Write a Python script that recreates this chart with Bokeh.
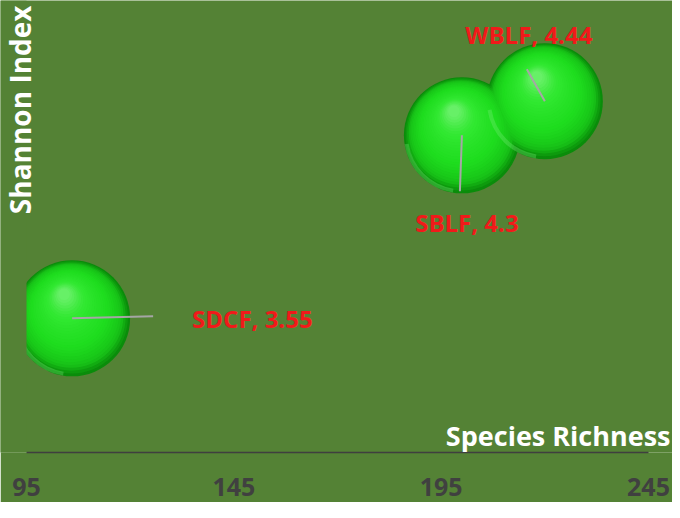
import numpy as np
from bokeh.plotting import figure
from bokeh.models import Range1d, Label, FixedTicker, ColumnDataSource, BoxAnnotation
from bokeh.core.properties import value
from bokeh.embed import file_html
from bokeh.resources import INLINE

# ---- data ----
sites = ["SDCF", "SBLF", "WBLF"]
richness = [106, 200, 220]
shannon = [3.55, 4.30, 4.44]
x_ticks = [95, 145, 195, 245]
x_title = "Species Richness"
y_title = "Shannon Index"

# ---- layout constants ----
W, H = 672, 502
BOTTOM = 50                 # panel under the plot area for tick labels
FH = H - BOTTOM             # frame height
AX_LEFT_PX = 26             # pixel position of x = first tick
AX_LEN_PX = 622             # pixel length from first to last tick
sx = AX_LEN_PX / (x_ticks[-1] - x_ticks[0])
Y0 = 3.0
sy = 244.0
X0 = x_ticks[0] - AX_LEFT_PX / sx
X1 = x_ticks[0] + (W - AX_LEFT_PX) / sx
Y1 = Y0 + FH / sy
BG = "#548235"
FONT = "Open Sans"

p = figure(width=W, height=H,
           x_range=Range1d(X0, X1), y_range=Range1d(Y0, Y1),
           output_backend="svg", toolbar_location=None,
           min_border_left=0, min_border_right=0, min_border_top=0,
           min_border_bottom=BOTTOM,
           background_fill_color=BG, border_fill_color=BG)
p.outline_line_color = None
p.grid.visible = False
p.yaxis.visible = False

ax = p.xaxis[0]
ax.ticker = FixedTicker(ticks=x_ticks)
ax.bounds = (x_ticks[0], x_ticks[-1])
ax.axis_line_color = "#3f3f3f"
ax.axis_line_width = 1.5
ax.major_tick_line_color = None
ax.minor_tick_line_color = None
ax.major_tick_out = 0
ax.major_tick_in = 0
ax.major_label_standoff = 25
ax.major_label_text_font = FONT
ax.major_label_text_font_style = "bold"
ax.major_label_text_font_size = "25px"
ax.major_label_text_color = "#404040"

# ---- spheres (layered circles for a shaded look) ----
D = 116.0            # bubble diameter in px
hx, hy = -8.0, 24.0  # highlight offset (px, y up)
stops = [(0.0, (10, 140, 10)), (0.12, (24, 196, 24)), (0.35, (30, 220, 30)),
         (0.75, (50, 232, 50)), (1.0, (105, 240, 105))]

def col(t):
    for (t0, c0), (t1, c1) in zip(stops[:-1], stops[1:]):
        if t <= t1:
            f = (t - t0) / (t1 - t0)
            c = [int(round(a + (b - a) * f)) for a, b in zip(c0, c1)]
            return "#%02x%02x%02x" % tuple(c)
    return "#%02x%02x%02x" % stops[-1][1]

rx = np.array(richness, float)
ry = np.array(shannon, float)
N = 28
for k in range(N):
    t = k / (N - 1)
    size = D * (1 - 0.9 * t)
    p.scatter(rx + t * hx / sx, ry + t * hy / sy, size=size,
              fill_color=col(t), line_color=None, alpha=1.0 if k == 0 else 0.85)

# soft light reflection rim on lower-left
p.annular_wedge(x=rx, y=ry, inner_radius=D / 2 - 4, outer_radius=D / 2,
                inner_radius_units="screen", outer_radius_units="screen",
                start_angle=np.pi * 1.05, end_angle=np.pi * 1.45,
                fill_color="#80f080", fill_alpha=0.3, line_color=None)

# ---- leader lines and labels ----
lead_px = [(81, 2), (-2, -56), (-18, 32)]     # line end offsets (px, y up)
lab_px = [(120, 0), (5, -87), (-16, 67)]      # label offsets (px, y up)

p.segment(x0=rx, y0=ry,
          x1=[x + dx / sx for x, (dx, dy) in zip(rx, lead_px)],
          y1=[y + dy / sy for y, (dx, dy) in zip(ry, lead_px)],
          line_color="#a6a6a6", line_width=2)

labels = [f"{s}, {v:g}" for s, v in zip(sites, shannon)]
src = ColumnDataSource(dict(x=rx, y=ry, text=labels,
                            xo=[o[0] for o in lab_px], yo=[-o[1] for o in lab_px],
                            align=["left", "center", "center"]))
p.text(x="x", y="y", text="text", x_offset="xo", y_offset="yo", source=src,
       text_align="align", text_baseline="middle",
       text_font=value(FONT), text_font_style="bold", text_font_size="24px",
       text_color="#f01a1a")

# ---- plot-area mask left of the first tick (the chart clips bubbles there) ----
p.add_layout(BoxAnnotation(right=x_ticks[0], fill_color=BG, fill_alpha=1.0,
                           line_color=None))

# ---- axis titles ----
p.add_layout(Label(x=X1 - 2 / sx, y=Y0 + 17 / sy, text=x_title,
                   text_align="right", text_baseline="middle",
                   text_font=FONT, text_font_style="bold", text_font_size="27px",
                   text_color="white"))
p.add_layout(Label(x=X0 + 19 / sx, y=Y1 - 5 / sy, text=y_title, angle=np.pi / 2,
                   text_align="right", text_baseline="middle",
                   text_font=FONT, text_font_style="bold", text_font_size="28px",
                   text_color="white"))

open("out.html", "w").write(file_html(p, INLINE))
